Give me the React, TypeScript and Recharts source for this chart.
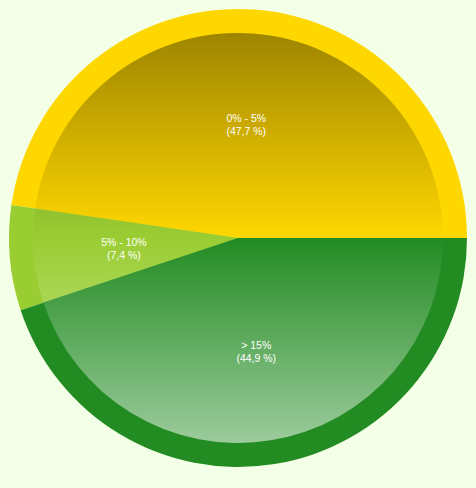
import React from 'react';
import { PieChart, Pie, Cell } from 'recharts';

const categories = ['0% - 5%', '5% - 10%', '> 15%'];
const shares = [47.7, 7.4, 44.9];
const colors = ['#FFD700', '#9ACD32', '#228B22'];

const data = categories.map((name, i) => ({ name, value: shares[i] }));

const CX = 238;
const CY = 238;
const OUTER = 229;
const INNER = 205;
const RADIAN = Math.PI / 180;

// blend a hex colour towards another rgb triple
const mix = (hex: string, to: number[], t: number) => {
  const n = parseInt(hex.slice(1), 16);
  const c = [(n >> 16) & 255, (n >> 8) & 255, n & 255];
  return `rgb(${c.map((v, i) => Math.round(v + (to[i] - v) * t)).join(',')})`;
};

const renderLabel = (props: any) => {
  const { cx, cy, midAngle, index } = props;
  const r = OUTER * 0.5;
  const x = cx + r * Math.cos(-midAngle * RADIAN);
  const y = cy + r * Math.sin(-midAngle * RADIAN);
  const pct = shares[index].toFixed(1).replace('.', ',');
  return (
    <text
      x={x}
      y={y}
      fill="#ffffff"
      textAnchor="middle"
      fontSize={10.5}
      fontFamily="'Liberation Sans', Arial, sans-serif"
    >
      <tspan x={x} dy={-2}>{categories[index]}</tspan>
      <tspan x={x} dy={13}>{`(${pct} %)`}</tspan>
    </text>
  );
};

const App: React.FC = () => {
  return (
    <div style={{ position: 'absolute', left: 0, top: 0, width: 476, height: 488, background: '#f3ffe6' }}>
      <PieChart width={476} height={488} margin={{ top: 0, right: 0, bottom: 0, left: 0 }}>
        <defs>
          {colors.map((c, i) => (
            <linearGradient
              key={i}
              id={`shade${i}`}
              gradientUnits="userSpaceOnUse"
              x1={0}
              y1={CY - INNER}
              x2={0}
              y2={CY + INNER}
            >
              <stop offset="0%" stopColor={mix(c, [0, 0, 0], 0.38)} />
              <stop offset="50%" stopColor={c} />
              <stop offset="100%" stopColor={mix(c, [255, 255, 255], 0.55)} />
            </linearGradient>
          ))}
        </defs>
        <Pie
          data={data}
          dataKey="value"
          cx={CX}
          cy={CY}
          outerRadius={OUTER}
          startAngle={0}
          endAngle={360}
          stroke="none"
          isAnimationActive={false}
        >
          {data.map((_, i) => (
            <Cell key={i} fill={colors[i]} />
          ))}
        </Pie>
        <Pie
          data={data}
          dataKey="value"
          cx={CX}
          cy={CY}
          outerRadius={INNER}
          startAngle={0}
          endAngle={360}
          stroke="none"
          label={renderLabel}
          labelLine={false}
          isAnimationActive={false}
        >
          {data.map((_, i) => (
            <Cell key={i} fill={`url(#shade${i})`} />
          ))}
        </Pie>
      </PieChart>
    </div>
  );
};

export default App;
